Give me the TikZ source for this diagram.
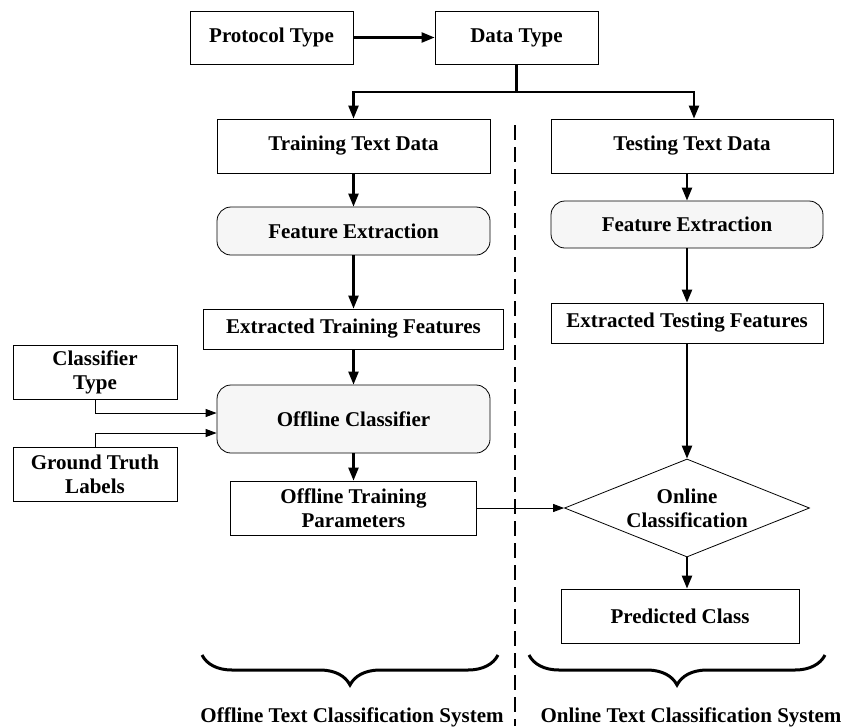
\documentclass[tikz,border=0pt]{standalone}
\usepackage{fontspec}
\setmainfont{Liberation Serif}
\usepackage{xcolor}
\usepackage{tikz}
\usetikzlibrary{arrows.meta,shapes.geometric,decorations.pathreplacing}

\tikzset{
    box/.style n args={2}{draw, line width=0.8pt, fill=white, align=center, inner sep=0pt,
        minimum width=#1, minimum height=#2,
        font=\bfseries\fontsize{21}{24}\selectfont},
    roundbox/.style n args={2}{box={#1}{#2}, rounded corners=14pt, fill=gray!7},
    decision/.style={diamond, draw, line width=0.8pt, aspect=2.5, align=center, inner sep=0pt,
        minimum width=245pt, minimum height=98pt,
        font=\bfseries\fontsize{21}{24}\selectfont},
    flow/.style={-{Triangle[length=13pt,width=10pt]}, line width=2.3pt},
    feed/.style={-{Triangle[length=11pt,width=8pt]}, line width=1pt},
    divider/.style={line width=1.6pt, dash pattern=on 15pt off 7pt},
    sysbrace/.style={decorate, decoration={brace, mirror, amplitude=30pt}, line width=3pt},
    syslabel/.style={font=\bfseries\fontsize{21}{24}\selectfont}
}

\begin{document}
\begin{tikzpicture}[x=1pt, y=-1pt]
        \useasboundingbox (0,0) rectangle (859,726);

        \node[box={163pt}{53pt}] (proto) at (271.5,37.5) {Protocol Type};
        \node[box={163pt}{53pt}, node distance=245pt, right of=proto] (dtype) {Data Type};
        \coordinate[node distance=54.5pt, below of=dtype] (split);

        % offline side
        \node[box={273pt}{54pt}] (train) at (353.5,146) {Training Text Data};
        \node[roundbox={273pt}{48pt}, node distance=85pt, below of=train] (fe1) {Feature Extraction};
        \node[box={300pt}{40pt}, node distance=98pt, below of=fe1] (etf) {Extracted Training Features};
        \node[roundbox={273pt}{68pt}, node distance=90pt, below of=etf] (oc) {Offline Classifier};
        \node[box={246pt}{54pt}, node distance=89pt, below of=oc] (otp) {Offline Training\\Parameters};
        \node[box={164pt}{54pt}] (ct) at (95,372) {Classifier\\Type};
        \node[box={164pt}{54pt}, node distance=102pt, below of=ct] (gt) {Ground Truth\\Labels};

        % online side
        \node[box={282pt}{54pt}] (ttd) at (692,146) {Testing Text Data};
        \node[roundbox={272pt}{47pt}, node distance=78.5pt, below of=ttd, xshift=-5pt] (fe2) {Feature Extraction};
        \node[box={272pt}{40pt}, node distance=98.5pt, below of=fe2] (etsf) {Extracted Testing Features};
        \node[decision, node distance=185pt, below of=etsf] (online) {Online\\Classification};
        \node[box={238pt}{54pt}, node distance=108pt, below of=online, xshift=-7pt] (pc) {Predicted Class};

        \draw[flow] (proto) -- (dtype);
        \draw[flow] (dtype.south) -- (split) -| (train.north);
        \draw[flow] (split) -| ([xshift=2pt]ttd.north);
        \draw[flow] (train) -- (fe1);
        \draw[flow] (fe1) -- (etf);
        \draw[flow] (etf) -- (oc);
        \draw[flow] (oc) -- (otp);
        \draw[feed] (ct.south) |- ([yshift=6pt]oc.west);
        \draw[feed] (gt.north) |- ([yshift=-14pt]oc.west);
        \draw[flow] (ttd.south -| fe2) -- (fe2.north);
        \draw[flow] (fe2) -- (etsf);
        \draw[flow] (etsf) -- (online);
        \draw[flow] (online.south) -- (online.south |- pc.north);
        \draw[feed] (otp.east) -- (online.west);

        \draw[divider] (515,125) -- (515,726);

        \draw[sysbrace] (202,655) -- (498,655);
        \draw[sysbrace] (529,655) -- (825,655);
        \node[syslabel] (offsys) at (352,717) {Offline Text Classification System};
        \node[syslabel] (onsys) at (691,717) {Online Text Classification System};
    \end{tikzpicture}
\end{document}
